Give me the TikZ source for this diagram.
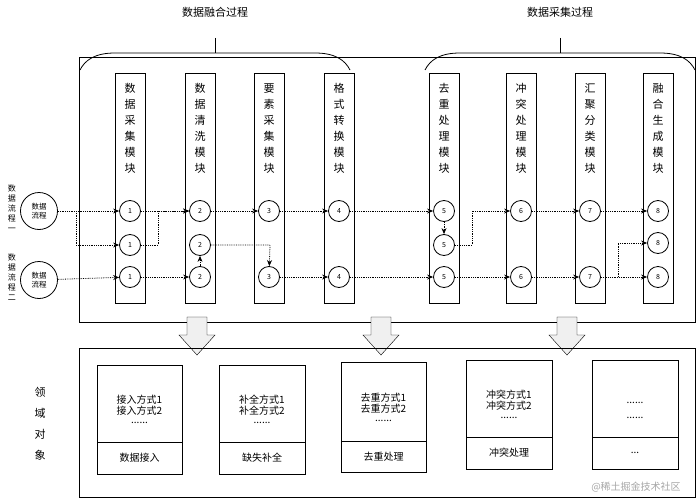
\documentclass[tikz,border=0pt]{standalone}
\usepackage{fontspec}
\setmainfont{Noto Sans CJK SC}
\usetikzlibrary{arrows.meta}
\begin{document}
\begin{tikzpicture}[x=1pt,y=-1pt,
  mod/.style={draw,thick,minimum width=30pt,minimum height=230pt,anchor=north,inner sep=0pt},
  vt/.style={align=center,font=\fontsize{11}{16}\selectfont,anchor=north},
  cir/.style={draw,thick,circle,minimum size=21pt,inner sep=0pt,font=\fontsize{7}{8}\selectfont,fill=white},
  src/.style={draw,thick,circle,minimum size=37pt,inner sep=0pt,font=\fontsize{7.5}{9}\selectfont,align=center},
  flow/.style={densely dotted,thick,-{Stealth[length=6pt,width=5pt]}},
  line/.style={densely dotted,thick},
  big/.style={draw,fill=gray!12,thin},
  ibox/.style={draw,thick},
  txt/.style={font=\fontsize{10}{13}\selectfont,align=center}]
\useasboundingbox (0,0) rectangle (698,500);
% titles and braces
\node[font=\fontsize{11}{13}\selectfont] (t1) at (215,12) {数据融合过程};
\node[font=\fontsize{11}{13}\selectfont] (t2) at (560,12) {数据采集过程};
\draw[thick] (80,70) .. controls (85,60) and (95,53) .. (115,53) -- (315,53) .. controls (335,53) and (345,60) .. (350,70);
\draw[thick] (215,38) -- (215,53);
\draw[thick] (425,70) .. controls (430,60) and (440,53) .. (460,53) -- (660,53) .. controls (680,53) and (690,60) .. (695,70);
\draw[thick] (560,38) -- (560,53);
% main box
\draw[thick] (79,57) rectangle (695,322);
% modules
\foreach \n/\x/\t in {1/130/数\\据\\采\\集\\模\\块, 2/200/数\\据\\清\\洗\\模\\块, 3/269/要\\素\\采\\集\\模\\块, 4/339/格\\式\\转\\换\\模\\块, 5/444/去\\重\\处\\理\\模\\块, 6/521/冲\\突\\处\\理\\模\\块, 7/590/汇\\聚\\分\\类\\模\\块, 8/658/融\\合\\生\\成\\模\\块}{
  \node[mod] (m\n) at (\x,73) {};
  \node[vt] (l\n) at (\x,80) {\t};
}
% sources
\node[src] (s1) at (39,211) {数据\\流程};
\node[src] (s2) at (39,280) {数据\\流程};
\node[align=center,font=\fontsize{8}{10}\selectfont] (sl1) at (12,208) {数\\据\\流\\程\\一};
\node[align=center,font=\fontsize{8}{10}\selectfont] (sl2) at (12,277) {数\\据\\流\\程\\二};
% circles
\foreach \c/\x in {1/130,2/200,3/269,4/339,5/444,6/521,7/590,8/658}{
  \node[cir] (c\c a) at (\x,211) {\c};
  \node[cir] (c\c c) at (\x,277) {\c};
}
\node[cir] (c1b) at (130,245) {1};
\node[cir] (c2b) at (200,245) {2};
\node[cir] (c5b) at (444,245) {5};
\node[cir] (c8b) at (658,243) {8};
\coordinate (b1) at (76,211);
\coordinate (j1) at (158,245);
\coordinate (j2) at (270,245);
\coordinate (j3) at (472,245);
\coordinate (b7) at (618,277);
% flows
\draw[flow] (s1) -- (c1a);
\draw[flow] (b1) |- (c1b);
\draw[flow] (c1a) -- (c2a);
\draw[flow] (c1b) -- (j1) |- (c2a);
\draw[flow] (c2a) -- (c3a);
\draw[flow] (c3a) -- (c4a);
\draw[flow] (c4a) -- (c5a);
\draw[flow] (s2) -- (c1c);
\draw[flow] (c1c) -- (c2c);
\draw[flow] (c2c) -- (c2b);
\draw[flow] (c2b) -- (j2) -- (c3c);
\draw[flow] (c3c) -- (c4c);
\draw[flow] (c4c) -- (c5c);
\draw[flow] (c5a) -- (c5b);
\draw[flow] (c5b) -- (j3) |- (c6a);
\draw[flow] (c6a) -- (c7a);
\draw[flow] (c7a) -- (c8a);
\draw[flow] (c5c) -- (c6c);
\draw[flow] (c6c) -- (c7c);
\draw[flow] (c7c) -- (c8c);
\draw[flow] (b7) |- (c8b);
% big arrows
\foreach \x in {197,381,567}{
  \draw[big] (\x-10,317) -- (\x+10,317) -- (\x+10,335) -- (\x+18,335) -- (\x,355) -- (\x-18,335) -- (\x-10,335) -- cycle;
}
% bottom box
\draw[thick] (79,348) rectangle (695,497);
\node[align=center,font=\fontsize{11}{21}\selectfont] (ly) at (40,424) {领\\域\\对\\象};
\foreach \n/\xa/\xb/\ya/\yd/\yb/\ta/\tb/\tc in {
  1/97/182/365/442/474/接入方式1/接入方式2/数据接入,
  2/219/305/365/442/474/补全方式1/补全方式2/缺失补全,
  3/341/426/362/441/472/去重方式1/去重方式2/去重处理,
  4/466/552/360/437/469/冲突方式1/冲突方式2/冲突处理}{
  \draw[ibox] (\xa,\ya) rectangle (\xb,\yb);
  \draw[ibox] (\xa,\yd) -- (\xb,\yd);
  \node[txt] (a\n) at ({(\xa+\xb)/2},{(\ya+\yd)/2+6}) {\ta\\[-2pt]\tb\\[-4pt]......};
  \node[txt] (b\n) at ({(\xa+\xb)/2},{(\yd+\yb)/2}) {\tc};
}
\draw[ibox] (592,360) rectangle (678,469);
\draw[ibox] (592,437) -- (678,437);
\node[txt] (a5) at (635,410) {......\\[2pt]......};
\node[txt] (b5) at (635,453) {...};
\node[font=\fontsize{10}{12}\selectfont,text=gray!70] (wm) at (636,487) {@稀土掘金技术社区};
\end{tikzpicture}
\end{document}
